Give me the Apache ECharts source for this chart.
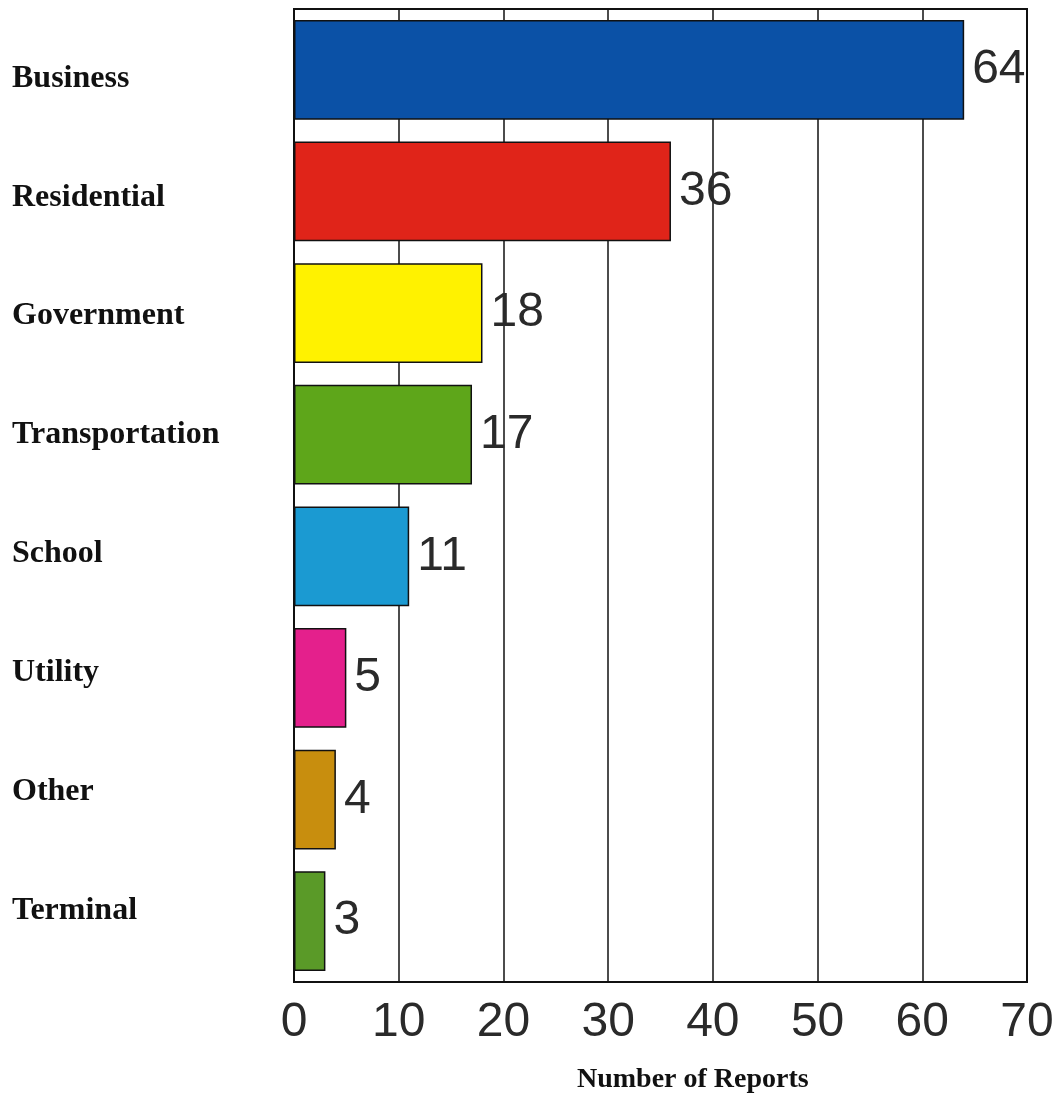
<!DOCTYPE html>
<html>
<head>
<meta charset="utf-8">
<script src="https://cdn.jsdelivr.net/npm/echarts@6/dist/echarts.min.js"></script>
<style>
  html, body { margin: 0; padding: 0; background: #fff; }
  #chart { width: 1058px; height: 1097px; }
</style>
</head>
<body>
<div id="chart"></div>
<script>
// Reports by facility type
const categories = ['Business', 'Residential', 'Government', 'Transportation', 'School', 'Utility', 'Other', 'Terminal'];
const reportCounts = [64, 36, 18, 17, 11, 5, 4, 3];
const barColors = ['#0b51a6', '#e02419', '#fff200', '#5ea61a', '#1b9ad2', '#e4208c', '#c88e0e', '#5a9a28'];
const axisTitle = 'Number of Reports';

const chart = echarts.init(document.getElementById('chart'), null, { renderer: 'canvas' });

const option = {
  backgroundColor: '#ffffff',
  animation: false,
  grid: [
    { left: 294, top: 9, right: 31, bottom: 115, show: true, borderColor: '#111', borderWidth: 2, containLabel: false },
    // label column on the left
    { left: 12, top: 19, width: 1, height: 951, show: false }
  ],
  xAxis: [
    {
      gridIndex: 0,
      type: 'value',
      min: 0, max: 70, interval: 10,
      axisLine: { show: true, lineStyle: { color: '#111', width: 2 } },
      axisTick: { show: false },
      splitLine: { show: true, lineStyle: { color: '#111', width: 1.5 } },
      axisLabel: { fontFamily: 'Liberation Sans, Arial, sans-serif', fontSize: 48, color: '#2a2a2a', margin: 17 }
    },
    { gridIndex: 1, type: 'value', show: false }
  ],
  yAxis: [
    {
      gridIndex: 0,
      type: 'category',
      data: categories,
      inverse: true,
      axisLine: { show: false },
      axisTick: { show: false },
      axisLabel: { show: false },
      splitLine: { show: false }
    },
    {
      gridIndex: 1,
      type: 'category',
      data: categories,
      inverse: true,
      axisLine: { show: false },
      axisTick: { show: false },
      splitLine: { show: false },
      axisLabel: {
        align: 'left', margin: 0,
        fontFamily: 'Liberation Serif, Times New Roman, serif',
        fontWeight: 'bold', fontSize: 32, color: '#111'
      }
    }
  ],
  graphic: [
    {
      type: 'text',
      left: 577, top: 1066,
      style: {
        text: axisTitle,
        font: 'bold 28px "Liberation Serif", "Times New Roman", serif',
        fill: '#111'
      }
    }
  ],
  series: [
    {
      type: 'bar',
      xAxisIndex: 0, yAxisIndex: 0,
      data: reportCounts.map((v, i) => ({ value: v, itemStyle: { color: barColors[i] } })),
      barCategoryGap: '18%',
      itemStyle: { borderColor: '#111', borderWidth: 1.5 },
      label: {
        show: true, position: 'right', distance: 8,
        fontFamily: 'Liberation Sans, Arial, sans-serif', fontSize: 48, color: '#2a2a2a'
      }
    }
  ]
};

chart.setOption(option);
</script>
</body>
</html>
